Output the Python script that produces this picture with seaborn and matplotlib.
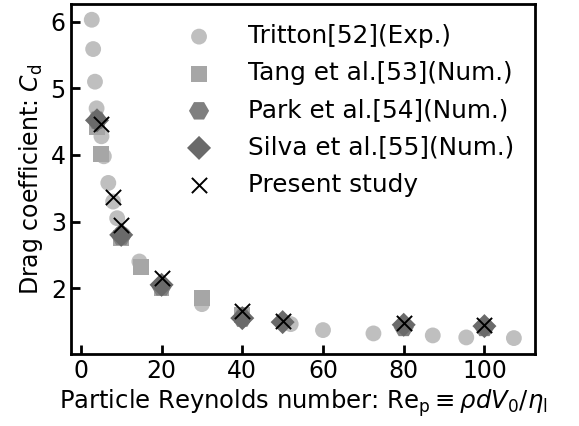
import numpy as np
import pandas as pd
import matplotlib
matplotlib.use("Agg")
import matplotlib.pyplot as plt
import seaborn as sns

# Drag coefficient of a sphere vs. particle Reynolds number
tritton_re = [2.7, 3.05, 3.5, 3.9, 5.1, 5.7, 6.8, 8.0, 9.0, 10.5, 14.5, 20.0, 30.0, 40.0, 52.0, 60.0, 72.5, 87.2, 95.5, 107.3]
tritton_cd = [6.03, 5.59, 5.10, 4.70, 4.28, 3.98, 3.58, 3.30, 3.05, 2.80, 2.40, 2.00, 1.76, 1.58, 1.46, 1.37, 1.32, 1.29, 1.26, 1.25]

tang_re = [4.0, 5.0, 10.0, 15.0, 20.0, 30.0, 40.0]
tang_cd = [4.42, 4.02, 2.75, 2.32, 2.00, 1.85, 1.60]

park_re = [4.0, 10.0, 20.0, 40.0, 80.0, 100.0]
park_cd = [4.52, 2.78, 2.02, 1.55, 1.41, 1.41]

silva_re = [4.0, 10.0, 20.0, 40.0, 50.0, 80.0, 100.0]
silva_cd = [4.52, 2.80, 2.05, 1.55, 1.49, 1.45, 1.43]

present_re = [5.0, 8.0, 10.0, 20.0, 40.0, 50.0, 80.0, 100.0]
present_cd = [4.47, 3.37, 2.95, 2.15, 1.65, 1.51, 1.48, 1.45]

series_labels = ["Tritton[52](Exp.)", "Tang et al.[53](Num.)", "Park et al.[54](Num.)",
                 "Silva et al.[55](Num.)", "Present study"]

sns.set_style("ticks")
plt.rcParams.update({
    "font.family": ["DejaVu Sans"],
    "font.size": 17,
    "text.color": "black",
    "axes.labelcolor": "black",
    "axes.edgecolor": "black",
    "xtick.color": "black",
    "ytick.color": "black",
    "axes.linewidth": 2.0,
    "xtick.direction": "in",
    "ytick.direction": "in",
    "xtick.major.width": 2.0,
    "ytick.major.width": 2.0,
    "xtick.major.size": 6.5,
    "ytick.major.size": 6.5,
    "xtick.labelsize": 17,
    "ytick.labelsize": 17,
    "mathtext.fontset": "dejavusans",
})

fig = plt.figure(figsize=(5.79, 4.26), dpi=100)
ax = fig.add_axes([0.122, 0.169, 0.802, 0.822])

frames = [
    (tritton_re, tritton_cd, "o", "#bfbfbf", 130, series_labels[0]),
    (tang_re, tang_cd, "s", "#a6a6a6", 130, series_labels[1]),
    (park_re, park_cd, "H", "#7f7f7f", 210, series_labels[2]),
    (silva_re, silva_cd, "D", "#6a6a6a", 150, series_labels[3]),
]
for xs, ys, mk, col, sz, lab in frames:
    df = pd.DataFrame({"Re": xs, "Cd": ys})
    sns.scatterplot(data=df, x="Re", y="Cd", marker=mk, color=col, s=sz,
                    edgecolor="none", linewidth=0, label=lab, ax=ax)

df_p = pd.DataFrame({"Re": present_re, "Cd": present_cd})
sns.scatterplot(data=df_p, x="Re", y="Cd", marker="x", color="black", s=120,
                linewidth=1.4, label=series_labels[4], ax=ax)

ax.set_xticks([0, 20, 40, 60, 80, 100])
ax.set_yticks([2, 3, 4, 5, 6])
ax.set_xlabel(r"Particle Reynolds number: $\mathrm{Re_p}\equiv\rho dV_0/\eta_\mathrm{l}$",
              fontsize=17.5, labelpad=3)
ax.set_ylabel(r"Drag coefficient: $C_\mathrm{d}$", fontsize=17)
ax.tick_params(top=False, right=False)

leg = ax.legend(loc="upper right", frameon=False, fontsize=17.8, handletextpad=1.0,
                borderaxespad=0.42, labelspacing=0.53)

fig.savefig("out.png", dpi=100)
